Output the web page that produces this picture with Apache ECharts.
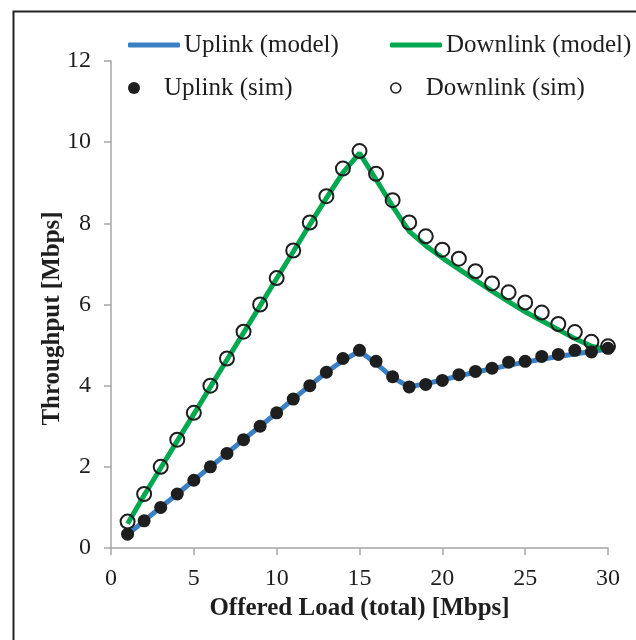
<!DOCTYPE html>
<html>
<head>
<meta charset="utf-8">
<script src="https://cdn.jsdelivr.net/npm/echarts@6/dist/echarts.min.js"></script>
<style>
  html, body { margin: 0; padding: 0; background: #fff; }
  #chart { width: 636px; height: 640px; }
</style>
</head>
<body>
<div id="chart"></div>
<script>
// 数据
const loads = [1, 2, 3, 4, 5, 6, 7, 8, 9, 10, 11, 12, 13, 14, 15,
  16, 17, 18, 19, 20, 21, 22, 23, 24, 25, 26, 27, 28, 29, 30];

const uplinkModel = [0.33, 0.67, 1.0, 1.33, 1.67, 2.0, 2.33, 2.67, 3.0, 3.33, 3.67, 4.0, 4.33, 4.62, 4.85,
  4.55, 4.2, 3.97, 4.05, 4.14, 4.24, 4.33, 4.42, 4.5, 4.58, 4.65, 4.72, 4.78, 4.84, 4.9];
const downlinkModel = [0.6, 1.3, 1.97, 2.64, 3.3, 3.97, 4.64, 5.3, 5.97, 6.64, 7.3, 7.97, 8.62, 9.25, 9.73,
  9.08, 8.42, 7.8, 7.45, 7.15, 6.87, 6.6, 6.33, 6.07, 5.82, 5.6, 5.38, 5.16, 4.97, 4.88];

const uplinkSim = [0.34, 0.67, 1.0, 1.33, 1.67, 2.0, 2.33, 2.67, 3.0, 3.33, 3.67, 4.0, 4.33, 4.67, 4.87,
  4.6, 4.22, 3.97, 4.03, 4.13, 4.27, 4.35, 4.43, 4.58, 4.6, 4.72, 4.77, 4.87, 4.83, 4.92];
const downlinkSim = [0.65, 1.33, 2.0, 2.67, 3.33, 4.0, 4.67, 5.33, 6.0, 6.65, 7.33, 8.02, 8.67, 9.35, 9.78,
  9.22, 8.57, 8.02, 7.68, 7.35, 7.13, 6.82, 6.52, 6.3, 6.05, 5.8, 5.52, 5.32, 5.08, 4.97];

const xTicks = [0, 5, 10, 15, 20, 25, 30];
const yTicks = [0, 2, 4, 6, 8, 10, 12];

const blue = '#3b80c3';
const green = '#00a84f';
const ink = '#1e1e1e';
const font = '"Liberation Serif", "DejaVu Serif", serif';

const pairs = (ys) => loads.map((x, i) => [x, ys[i]]);

const chart = echarts.init(document.getElementById('chart'));

// 图例：每项单独定位
const legendItem = (name, left, top, opts) => Object.assign({
  data: [name],
  left: left,
  top: top,
  orient: 'horizontal',
  itemWidth: 52,
  itemGap: 4,
  textStyle: { fontFamily: font, fontSize: 25, lineHeight: 26, color: ink, padding: [0, 0, 0, -1] },
  selectedMode: false,
  padding: 0
}, opts);

const option = {
  backgroundColor: '#fff',
  animation: false,
  graphic: [{
    type: 'rect',
    left: 11,
    top: 9,
    shape: { width: 700, height: 700 },
    style: { fill: 'none', stroke: '#222', lineWidth: 2 },
    silent: true,
    z: -1
  }],
  legend: [
    legendItem('Uplink (model)', 128, 32, { itemHeight: 5, icon: 'roundRect' }),
    legendItem('Downlink (model)', 390, 32, { itemHeight: 5, icon: 'roundRect' }),
    legendItem('Uplink (sim)', 128, 75, { itemHeight: 12, icon: 'circle' }),
    legendItem('Downlink (sim)', 390, 75, { itemHeight: 10, icon: 'circle',
      itemStyle: { color: 'rgba(255,255,255,0)', borderColor: ink, borderWidth: 1.6 } })
  ],
  grid: { left: 111, right: 28, top: 61, bottom: 92 },
  xAxis: {
    type: 'value',
    min: 0,
    max: 30,
    interval: 5,
    name: 'Offered Load (total) [Mbps]',
    nameLocation: 'middle',
    nameGap: 47,
    nameTextStyle: { fontFamily: font, fontSize: 25, fontWeight: 'bold', color: ink },
    axisLine: { lineStyle: { color: '#a6a6a6', width: 1.5 } },
    axisTick: { show: true, length: 7, inside: false, lineStyle: { color: '#a6a6a6', width: 1.5 } },
    axisLabel: { fontFamily: font, fontSize: 24, color: ink, margin: 19,
      formatter: (v) => xTicks.includes(v) ? String(v) : '' },
    splitLine: { show: false }
  },
  yAxis: {
    type: 'value',
    min: 0,
    max: 12,
    interval: 2,
    name: 'Throughput [Mbps]',
    nameLocation: 'middle',
    nameGap: 46,
    nameMoveOverlap: false,
    nameTextStyle: { fontFamily: font, fontSize: 25, fontWeight: 'bold', color: ink, padding: [0, 28, 0, 0] },
    axisLine: { show: true, lineStyle: { color: '#a6a6a6', width: 1.5 } },
    axisTick: { show: true, length: 7, inside: false, lineStyle: { color: '#a6a6a6', width: 1.5 } },
    axisLabel: { fontFamily: font, fontSize: 24, color: ink, margin: 20,
      formatter: (v) => yTicks.includes(v) ? String(v) : '' },
    splitLine: { show: false }
  },
  series: [
    {
      name: 'Uplink (model)',
      type: 'line',
      data: pairs(uplinkModel),
      showSymbol: false,
      symbol: 'none',
      lineStyle: { color: blue, width: 5 },
      itemStyle: { color: blue },
      z: 2
    },
    {
      name: 'Downlink (model)',
      type: 'line',
      data: pairs(downlinkModel),
      showSymbol: false,
      symbol: 'none',
      lineStyle: { color: green, width: 5 },
      itemStyle: { color: green },
      z: 2
    },
    {
      name: 'Uplink (sim)',
      type: 'scatter',
      data: pairs(uplinkSim),
      symbol: 'circle',
      symbolSize: 13,
      itemStyle: { color: ink, opacity: 1 },
      z: 3
    },
    {
      name: 'Downlink (sim)',
      type: 'scatter',
      data: pairs(downlinkSim),
      symbol: 'circle',
      symbolSize: 14,
      itemStyle: { color: 'rgba(255,255,255,0)', borderColor: ink, borderWidth: 2, opacity: 1 },
      z: 4
    }
  ]
};

chart.setOption(option);
</script>
</body>
</html>
